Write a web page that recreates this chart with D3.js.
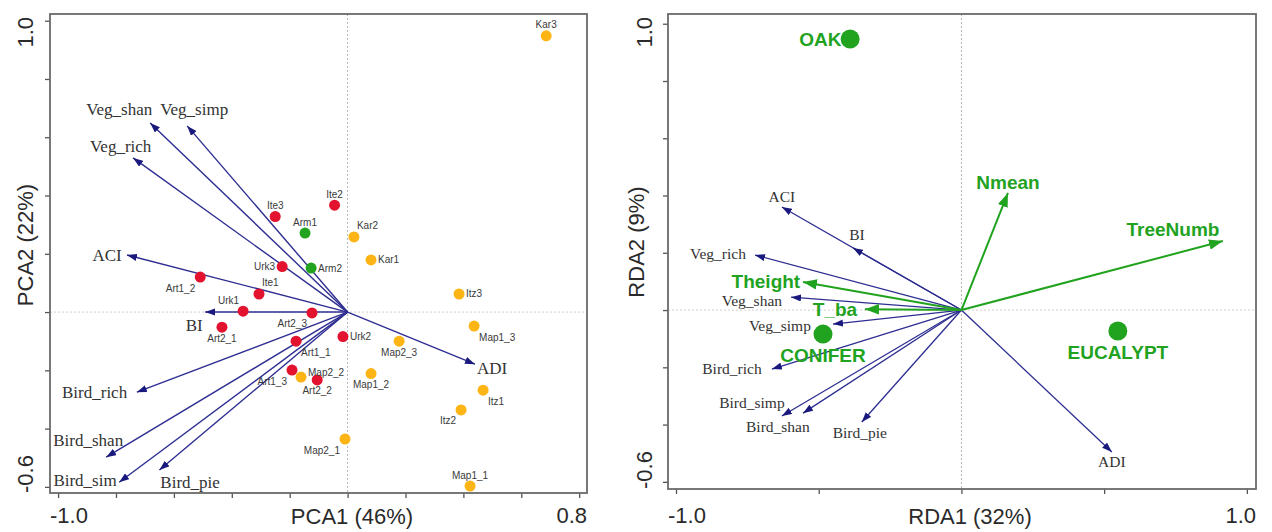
<!DOCTYPE html>
<html><head><meta charset="utf-8">
<script src="https://cdn.jsdelivr.net/npm/d3@7"></script>
<style>
html,body{margin:0;padding:0;background:#fff;}
svg{display:block;}
</style></head>
<body>
<svg id="chart" width="1272" height="532"></svg>
<script>
// ---------------- PCA (left panel) data ----------------
const pcaSites  = ["Kar3","Ite2","Kar2","Kar1","Arm1","Ite3","Urk3","Arm2","Art1_2","Ite1","Urk1","Art2_3","Art2_1","Urk2","Art1_1","Art1_3","Map2_2","Art2_2","Map1_2","Itz3","Map1_3","Map2_3","Itz1","Itz2","Map2_1","Map1_1"];
const pcaSiteX  = [0.686,-0.045,0.022,0.081,-0.147,-0.250,-0.226,-0.126,-0.509,-0.306,-0.361,-0.123,-0.434,-0.016,-0.178,-0.192,-0.161,-0.105,0.081,0.385,0.437,0.178,0.468,0.392,-0.009,0.423];
const pcaSiteY  = [0.948,0.367,0.258,0.179,0.271,0.328,0.156,0.151,0.120,0.062,0.003,-0.003,-0.052,-0.084,-0.100,-0.199,-0.223,-0.233,-0.211,0.062,-0.048,-0.100,-0.268,-0.336,-0.436,-0.597];
const pcaSiteGroup = ["O","R","O","O","G","R","R","G","R","R","R","R","R","R","R","R","O","R","O","O","O","O","O","O","O","O"];
const pcaSiteLabelDir = ["n","n","ne","e","n","n","w","e","sw","ne","nw","sw","s","e","se","sw","e","s","s","e","se","s","se","sw","sw","n"];

const pcaVars   = ["Veg_shan","Veg_simp","Veg_rich","ACI","BI","Bird_rich","Bird_shan","Bird_sim","Bird_pie","ADI"];
const pcaVarX   = [-0.682,-0.554,-0.741,-0.762,-0.492,-0.728,-0.834,-0.789,-0.650,0.440];
const pcaVarY   = [0.649,0.639,0.529,0.196,0.000,-0.275,-0.498,-0.584,-0.542,-0.179];
const pcaVarLabelX = [-0.789,-0.530,-0.784,-0.831,-0.530,-0.874,-0.896,-0.907,-0.544,0.499];
const pcaVarLabelY = [0.694,0.694,0.567,0.196,-0.045,-0.275,-0.439,-0.577,-0.584,-0.192];

const pcaXTicks = [-1.0,-0.8,-0.6,-0.4,-0.2,0.0,0.2,0.4,0.6,0.8];
const pcaYTicks = [-0.6,-0.4,-0.2,0.0,0.2,0.4,0.6,0.8,1.0];
const pcaXTickLabels = ["-1.0","0.8"];
const pcaYTickLabels = ["-0.6","1.0"];
const pcaXTitle = "PCA1 (46%)";
const pcaYTitle = "PCA2 (22%)";

// ---------------- RDA (right panel) data ----------------
const rdaVars   = ["ACI","BI","Veg_rich","Veg_shan","Veg_simp","Bird_rich","Bird_simp","Bird_shan","Bird_pie","ADI"];
const rdaVarX   = [-0.629,-0.380,-0.723,-0.597,-0.450,-0.664,-0.629,-0.555,-0.349,0.527];
const rdaVarY   = [0.360,0.217,0.192,0.045,-0.049,-0.206,-0.370,-0.360,-0.391,-0.496];
const rdaVarLabelX = [-0.629,-0.366,-0.853,-0.734,-0.636,-0.804,-0.734,-0.643,-0.356,0.527];
const rdaVarLabelY = [0.395,0.262,0.196,0.031,-0.056,-0.206,-0.325,-0.409,-0.430,-0.531];

const rdaEnv    = ["Nmean","TreeNumb","Theight","T_ba"];
const rdaEnvX   = [0.163,0.916,-0.555,-0.338];
const rdaEnvY   = [0.409,0.241,0.098,0.003];
const rdaEnvLabelX = [0.163,0.741,-0.685,-0.443];
const rdaEnvLabelY = [0.447,0.283,0.101,0.003];

const rdaCentroids = ["OAK","CONIFER","EUCALYPT"];
const rdaCentX  = [-0.390,-0.485,0.548];
const rdaCentY  = [0.947,-0.084,-0.073];
const rdaCentLabelX = [-0.420,-0.485,0.548];
const rdaCentLabelY = [0.947,-0.157,-0.147];
const rdaCentLabelAnchor = ["end","middle","middle"];

const rdaXTicks = [-1.0,-0.5,0.0,0.5,1.0];
const rdaYTicks = [-0.6,-0.4,-0.2,0.0,0.2,0.4,0.6,0.8,1.0];
const rdaXTickLabels = ["-1.0","1.0"];
const rdaYTickLabels = ["-0.6","1.0"];
const rdaXTitle = "RDA1 (32%)";
const rdaYTitle = "RDA2 (9%)";

// ---------------- styles ----------------
const BLUE = "#2e2e92", BLUE_HEAD = "#1a1a7e";
const GREEN = "#22a31f";
const RED = "#e3122e", ORANGE = "#fdb515";
const groupColor = {R: RED, O: ORANGE, G: GREEN};
const SANS = "Liberation Sans, Arial, sans-serif";
const SERIF = "Liberation Serif, Times New Roman, serif";

const svg = d3.select("#chart");
const defs = svg.append("defs");
function marker(id, color, len, hw) {
  defs.append("marker").attr("id", id)
    .attr("markerUnits", "userSpaceOnUse")
    .attr("viewBox", `0 ${-hw} ${len} ${2*hw}`)
    .attr("refX", len).attr("refY", 0)
    .attr("markerWidth", len).attr("markerHeight", 2*hw)
    .attr("orient", "auto")
    .append("path").attr("d", `M0,${-hw}L${len},0L0,${hw}Z`).attr("fill", color);
}
marker("hb", BLUE_HEAD, 10, 3.6);
marker("hg", GREEN, 14, 5.2);

function frame(g, x, y, xTicks, yTicks, xLabs, yLabs, xTitle, yTitle, xTitleX, yTitleY, yTitleBase, yTickBase) {
  const [x0, x1] = x.range(), [y0, y1] = y.range(); // y0 bottom
  g.append("line").attr("x1", x(0)).attr("x2", x(0)).attr("y1", y1).attr("y2", y0)
    .attr("stroke", "#b5b5b5").attr("stroke-width", 1).attr("stroke-dasharray", "2,2");
  g.append("line").attr("x1", x0).attr("x2", x1).attr("y1", y(0)).attr("y2", y(0))
    .attr("stroke", "#cfcfcf").attr("stroke-width", 1).attr("stroke-dasharray", "2,2");
  const xa = g.append("g").attr("transform", `translate(0,${y0})`)
    .call(d3.axisBottom(x).tickValues(xTicks).tickSize(5).tickFormat(""));
  const ya = g.append("g").attr("transform", `translate(${x0},0)`)
    .call(d3.axisLeft(y).tickValues(yTicks).tickSize(5).tickFormat(""));
  [xa, ya].forEach(a => { a.selectAll("line").attr("stroke", "#555").attr("stroke-width", 1.3); a.select(".domain").remove(); });
  g.append("rect").attr("x", x0).attr("y", y1).attr("width", x1 - x0).attr("height", y0 - y1)
    .attr("fill", "none").attr("stroke", "#6a6a6a").attr("stroke-width", 1.8);
  const tstyle = s => s.attr("font-family", SANS).attr("font-size", 22).attr("fill", "#2a2a2a");
  g.append("text").attr("x", x0).attr("y", 523).attr("text-anchor", "start").text(xLabs[0]).call(tstyle);
  g.append("text").attr("x", x1).attr("y", 523).attr("text-anchor", "end").text(xLabs[1]).call(tstyle);
  g.append("text").attr("transform", `translate(${yTickBase},${y0}) rotate(-90)`).attr("text-anchor", "start").text(yLabs[0]).call(tstyle);
  g.append("text").attr("transform", `translate(${yTickBase},${y1 + 3}) rotate(-90)`).attr("text-anchor", "end").text(yLabs[1]).call(tstyle);
  g.append("text").attr("x", xTitleX).attr("y", 524).attr("text-anchor", "middle").text(xTitle).call(tstyle);
  g.append("text").attr("transform", `translate(${yTitleBase},${yTitleY}) rotate(-90)`).attr("text-anchor", "middle").text(yTitle).call(tstyle);
}

// ---------------- LEFT: PCA ----------------
const xL = d3.scaleLinear().domain([-1.028, 0.827]).range([50, 587]);
const yL = d3.scaleLinear().domain([-0.621, 1.023]).range([493, 14]);
const gL = svg.append("g");
frame(gL, xL, yL, pcaXTicks, pcaYTicks, pcaXTickLabels, pcaYTickLabels, pcaXTitle, pcaYTitle, 352, 245, 33, 33);

gL.append("g").selectAll("line").data(pcaVars).join("line")
  .attr("x1", xL(0)).attr("y1", yL(0))
  .attr("x2", (d, i) => xL(pcaVarX[i])).attr("y2", (d, i) => yL(pcaVarY[i]))
  .attr("stroke", BLUE).attr("stroke-width", 1.4).attr("marker-end", "url(#hb)");
gL.append("g").selectAll("text").data(pcaVars).join("text")
  .attr("x", (d, i) => xL(pcaVarLabelX[i])).attr("y", (d, i) => yL(pcaVarLabelY[i]))
  .attr("dy", "0.33em").attr("text-anchor", "middle")
  .attr("font-family", SERIF).attr("font-size", 17).attr("fill", "#333").text(d => d);

const dirOff = {
  n: [0, -7.5, "middle"], s: [0, 14.5, "middle"], e: [7, 3.5, "start"], w: [-7, 3.5, "end"],
  ne: [3, -7.5, "start"], nw: [-4, -7.5, "end"], se: [5, 14.5, "start"], sw: [-5, 14.5, "end"]
};
const siteG = gL.append("g");
siteG.selectAll("circle").data(pcaSites).join("circle")
  .attr("cx", (d, i) => xL(pcaSiteX[i])).attr("cy", (d, i) => yL(pcaSiteY[i]))
  .attr("r", 5.5).attr("fill", (d, i) => groupColor[pcaSiteGroup[i]]);
siteG.selectAll("text").data(pcaSites).join("text")
  .attr("x", (d, i) => xL(pcaSiteX[i]) + dirOff[pcaSiteLabelDir[i]][0])
  .attr("y", (d, i) => yL(pcaSiteY[i]) + dirOff[pcaSiteLabelDir[i]][1] + (d === "Map2_2" ? -5 : 0))
  .attr("text-anchor", (d, i) => dirOff[pcaSiteLabelDir[i]][2])
  .attr("font-family", SANS).attr("font-size", 10).attr("fill", "#3a3a3a").text(d => d);

// ---------------- RIGHT: RDA ----------------
const xR = d3.scaleLinear().domain([-1.028, 1.032]).range([668, 1256]);
const yR = d3.scaleLinear().domain([-0.625, 1.034]).range([489, 14]);
const gR = svg.append("g");
frame(gR, xR, yR, rdaXTicks, rdaYTicks, rdaXTickLabels, rdaYTickLabels, rdaXTitle, rdaYTitle, 970, 242, 644, 652);

gR.append("g").selectAll("line").data(rdaVars).join("line")
  .attr("x1", xR(0)).attr("y1", yR(0))
  .attr("x2", (d, i) => xR(rdaVarX[i])).attr("y2", (d, i) => yR(rdaVarY[i]))
  .attr("stroke", BLUE).attr("stroke-width", 1.3).attr("marker-end", "url(#hb)");
gR.append("g").selectAll("text").data(rdaVars).join("text")
  .attr("x", (d, i) => xR(rdaVarLabelX[i])).attr("y", (d, i) => yR(rdaVarLabelY[i]))
  .attr("dy", "0.33em").attr("text-anchor", "middle")
  .attr("font-family", SERIF).attr("font-size", 15.5).attr("fill", "#333").text(d => d);

gR.append("g").selectAll("line").data(rdaEnv).join("line")
  .attr("x1", xR(0)).attr("y1", yR(0))
  .attr("x2", (d, i) => xR(rdaEnvX[i])).attr("y2", (d, i) => yR(rdaEnvY[i]))
  .attr("stroke", GREEN).attr("stroke-width", 2).attr("marker-end", "url(#hg)");
gR.append("g").selectAll("text").data(rdaEnv).join("text")
  .attr("x", (d, i) => xR(rdaEnvLabelX[i])).attr("y", (d, i) => yR(rdaEnvLabelY[i]))
  .attr("dy", "0.36em").attr("text-anchor", "middle")
  .attr("font-family", SANS).attr("font-weight", "bold").attr("font-size", 19).attr("fill", GREEN).text(d => d);

gR.append("g").selectAll("circle").data(rdaCentroids).join("circle")
  .attr("cx", (d, i) => xR(rdaCentX[i])).attr("cy", (d, i) => yR(rdaCentY[i]))
  .attr("r", 9.5).attr("fill", GREEN);
gR.append("g").selectAll("text").data(rdaCentroids).join("text")
  .attr("x", (d, i) => xR(rdaCentLabelX[i])).attr("y", (d, i) => yR(rdaCentLabelY[i]))
  .attr("dy", "0.36em").attr("text-anchor", (d, i) => rdaCentLabelAnchor[i])
  .attr("font-family", SANS).attr("font-weight", "bold").attr("font-size", 19).attr("fill", GREEN).text(d => d);
</script>
</body></html>
